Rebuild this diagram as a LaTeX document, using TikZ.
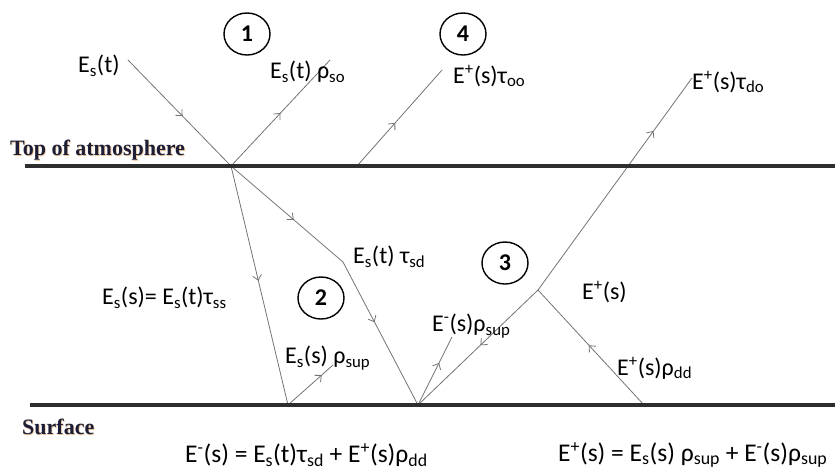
\documentclass[tikz,border=0pt]{standalone}
\usepackage{fontspec}
\setmainfont{Carlito}
\newfontfamily\headfont{Liberation Serif}
\usetikzlibrary{arrows.meta,decorations.markings,shapes.geometric}
\newcommand\lsub[1]{\textsubscript{#1}}
\newcommand\lsup[1]{\textsuperscript{#1}}
\definecolor{headcol}{RGB}{30,30,55}
\definecolor{glowcol}{RGB}{215,150,70}
\begin{document}
\begin{tikzpicture}[x=1pt,y=-1pt,
  ray/.style={draw=black!55, line width=0.8pt},
  amark/.style={postaction={decorate,decoration={markings,
     mark=at position #1 with {\arrow{Straight Barb[length=5pt,width=9pt,line width=0.8pt]}}}}},
  lbl/.style={anchor=west,inner sep=0pt,font=\fontsize{24}{28}\selectfont},
  eqn/.style={anchor=west,inner sep=0pt,font=\fontsize{25.5}{29}\selectfont},
  num/.style={draw,line width=1.4pt,ellipse,minimum width=46pt,minimum height=42pt,inner sep=0pt,
     font=\bfseries\fontsize{24}{28}\selectfont},
  level/.style={line width=3.2pt, draw=black!82},
  head/.style={anchor=west,inner sep=0pt,text=headcol,font=\headfont\bfseries\fontsize{22}{26}\selectfont},
  headglow/.style={head,text=glowcol,opacity=0.55}
]
\useasboundingbox (0,0) rectangle (835,472);
% points
\coordinate (toaL) at (25,166);  \coordinate (toaR) at (835,166);
\coordinate (srfL) at (30,405);  \coordinate (srfR) at (835,405);
\coordinate (inS) at (128,60);
\coordinate (A) at (231,166);
\coordinate (rsoE) at (330,60);
\coordinate (tooS) at (357,166); \coordinate (tooE) at (442,70);
\coordinate (B) at (343,262);
\coordinate (G1) at (288,405);
\coordinate (rsupOneE) at (333,365);
\coordinate (G2) at (418,405);
\coordinate (rsupTwoE) at (452,337);
\coordinate (J) at (538,290);
\coordinate (tdoE) at (692,78);
\coordinate (ddS) at (644,405);
% rays
\draw[ray, amark=0.53] (inS) -- (A);
\draw[ray, amark=0.5] (A) -- (rsoE);
\draw[ray, amark=0.45] (tooS) -- (tooE);
\draw[ray, amark=0.48] (A) -- (G1);
\draw[ray, amark=0.56] (A) -- (B);
\draw[ray, amark=0.42] (B) -- (G2);
\draw[ray, amark=0.75] (G1) -- (rsupOneE);
\draw[ray, amark=0.62] (G2) -- (rsupTwoE);
\draw[ray, amark=0.48] (J) -- (G2);
\draw[ray, amark=0.52] (ddS) -- (J);
\draw[ray, amark=0.75] (J) -- (tdoE);
% levels
\draw[level] (toaL) -- (toaR);
\draw[level] (srfL) -- (srfR);
\node[headglow] (htoaGlow) at (10.8,150.8) {Top of atmosphere};
\node[head] (htoa) at (10,150) {Top of atmosphere};
\node[headglow] (hsrfGlow) at (22.8,427.8) {Surface};
\node[head] (hsrf) at (22,427) {Surface};
% circles
\node[num] (c1) at (247,34) {1};
\node[num] (c4) at (463,34) {4};
\node[num] (c3) at (505,263) {3};
\node[num] (c2) at (321,298) {2};
% labels
\node[lbl] (lEst) at (78,66) {E\lsub{s}(t)};
\node[lbl] (lrso) at (270,72) {E\lsub{s}(t) ρ\lsub{so}};
\node[lbl] (ltoo) at (453,76) {E\lsup{+}(s)τ\lsub{oo}};
\node[lbl] (ltdo) at (692,82) {E\lsup{+}(s)τ\lsub{do}};
\node[lbl] (ltsd) at (353,257) {E\lsub{s}(t) τ\lsub{sd}};
\node[lbl] (ltss) at (102,298) {E\lsub{s}(s)= E\lsub{s}(t)τ\lsub{ss}};
\node[lbl] (lrsupOne) at (285,358) {E\lsub{s}(s) ρ\lsub{sup}};
\node[lbl] (lrsupTwo) at (432,326) {E\lsup{-}(s)ρ\lsub{sup}};
\node[lbl] (lEp) at (582,292) {E\lsup{+}(s)};
\node[lbl] (lrdd) at (617,368) {E\lsup{+}(s)ρ\lsub{dd}};
\node[eqn] (eqOne) at (185,455) {E\lsup{-}(s) = E\lsub{s}(t)τ\lsub{sd} + E\lsup{+}(s)ρ\lsub{dd}};
\node[eqn] (eqTwo) at (558,455) {E\lsup{+}(s) = E\lsub{s}(s) ρ\lsub{sup} + E\lsup{-}(s)ρ\lsub{sup}};
\end{tikzpicture}
\end{document}
